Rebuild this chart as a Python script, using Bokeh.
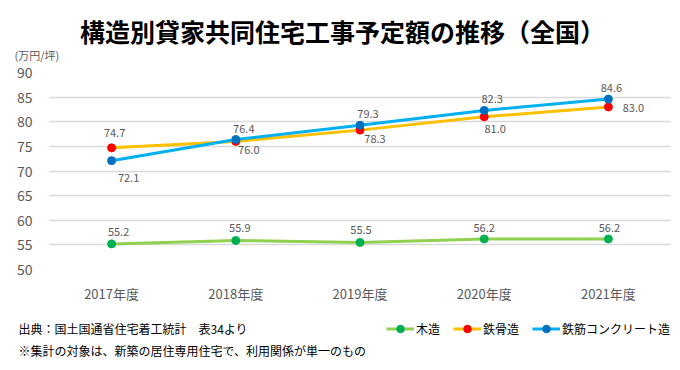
from bokeh.plotting import figure
from bokeh.layouts import column
from bokeh.models import (Range1d, FactorRange, FixedTicker, Label, Legend, LegendItem,
                          ColumnDataSource)
from bokeh.core.properties import value
from bokeh.embed import file_html
from bokeh.resources import INLINE

# ---- data ----
years = ["2017年度", "2018年度", "2019年度", "2020年度", "2021年度"]
wood = [55.2, 55.9, 55.5, 56.2, 56.2]
steel = [74.7, 76.0, 78.3, 81.0, 83.0]
rc = [72.1, 76.4, 79.3, 82.3, 84.6]
series_names = ["木造", "鉄骨造", "鉄筋コンクリート造"]
y_ticks = [50, 55, 60, 65, 70, 75, 80, 85, 90]

title_text = "構造別貸家共同住宅工事予定額の推移（全国）"
unit_text = "(万円/坪)"
note1 = "出典：国土国通省住宅着工統計　表34より"
note2 = "※集計の対象は、新築の居住専用住宅で、利用関係が単一のもの"

# ---- styles ----
FONT = "Noto Sans CJK JP"
TXT = "#595959"
W = 680
TOP_H, MAIN_H, BOT_H = 62, 243, 65
line_colors = ["#92D050", "#FFC000", "#00B0F0"]
marker_colors = ["#00B050", "#FF0000", "#0070C0"]
# label offsets (screen px, dx, dy with +dy downwards)
offsets = [
    [(7, -12), (4, -12), (1, -12), (0, -11), (1, -11)],
    [(3, -15), (13, 9), (15, 9), (11, 12), (25, 1)],
    [(17, 17), (8, -10), (8, -11), (8, -11), (3, -11)],
]


def strip(h):
    f = figure(width=W, height=h, output_backend="svg", toolbar_location=None,
               x_range=Range1d(0, W), y_range=Range1d(0, h),
               x_axis_type=None, y_axis_type=None, min_border=0, frame_align=False)
    f.outline_line_color = None
    f.xgrid.grid_line_color = None
    f.ygrid.grid_line_color = None
    return f


# ---- top strip: title + unit ----
top = strip(TOP_H)
top.add_layout(Label(x=342, y=TOP_H - 30, text=title_text, text_align="center",
                     text_baseline="middle", text_font=FONT, text_font_size="25px",
                     text_font_style="bold", text_color="#000000"))
top.add_layout(Label(x=14, y=TOP_H - 54, text=unit_text, text_align="left",
                     text_baseline="middle", text_font=FONT, text_font_size="11px",
                     text_color=TXT))

# ---- main chart ----
p = figure(width=W, height=MAIN_H, output_backend="svg", toolbar_location=None,
           x_range=FactorRange(*years, range_padding=0), y_range=Range1d(50, 90),
           min_border_left=49, min_border_right=10, min_border_top=10, min_border_bottom=34,
           frame_align=False)
p.outline_line_color = None
p.xgrid.grid_line_color = None
p.ygrid.grid_line_color = "#D9D9D9"
p.ygrid.grid_line_width = 1.3
p.yaxis.ticker = FixedTicker(ticks=y_ticks)
for ax in (p.xaxis, p.yaxis):
    ax.axis_line_color = None
    ax.major_tick_line_color = None
    ax.minor_tick_line_color = None
    ax.major_tick_out = 0
    ax.minor_tick_out = 0
    ax.major_label_text_font = FONT
    ax.major_label_text_color = TXT
p.yaxis.major_label_text_font_size = "14px"
p.xaxis.major_label_text_font_size = "13px"
p.yaxis.major_label_standoff = 17
p.xaxis.major_label_standoff = 14

for i, vals in enumerate([wood, steel, rc]):
    src = ColumnDataSource(dict(x=years, y=vals,
                                t=["%.1f" % v for v in vals],
                                dx=[o[0] for o in offsets[i]],
                                dy=[o[1] for o in offsets[i]]))
    p.line("x", "y", source=src, line_color=line_colors[i], line_width=3)
    p.scatter("x", "y", source=src, size=8, fill_color=marker_colors[i],
              line_color=marker_colors[i])
    p.text("x", "y", text="t", source=src, x_offset="dx", y_offset="dy",
           text_align="center", text_baseline="middle", text_font=value(FONT),
           text_font_size="11px", text_color=TXT)

# ---- bottom strip: notes + legend ----
bot = strip(BOT_H)
bot.add_layout(Label(x=18, y=BOT_H - 23, text=note1, text_align="left",
                     text_baseline="middle", text_font=FONT, text_font_size="12px",
                     text_color="#000000"))
bot.add_layout(Label(x=18, y=BOT_H - 45, text=note2, text_align="left",
                     text_baseline="middle", text_font=FONT, text_font_size="12px",
                     text_color="#000000"))
items = []
for i, name in enumerate(series_names):
    # legend-key renderers: one point placed outside the visible strip
    ln = bot.line(x=[-1000, -999], y=[-1000, -1000], line_color=line_colors[i], line_width=3)
    sc = bot.scatter(x=[-1000], y=[-1000], size=8, fill_color=marker_colors[i],
                     line_color=marker_colors[i])
    items.append(LegendItem(label=name, renderers=[ln, sc]))
legend = Legend(items=items, orientation="horizontal", location=(386, BOT_H - 33),
                glyph_width=28, glyph_height=19, label_standoff=2, spacing=13,
                padding=0, margin=0, border_line_alpha=0, background_fill_alpha=0,
                label_text_font=FONT, label_text_font_size="12px",
                label_text_color="#000000", label_height=19)
bot.add_layout(legend, "center")

layout = column(top, p, bot, spacing=0)
open("out.html", "w").write(file_html(layout, INLINE))
